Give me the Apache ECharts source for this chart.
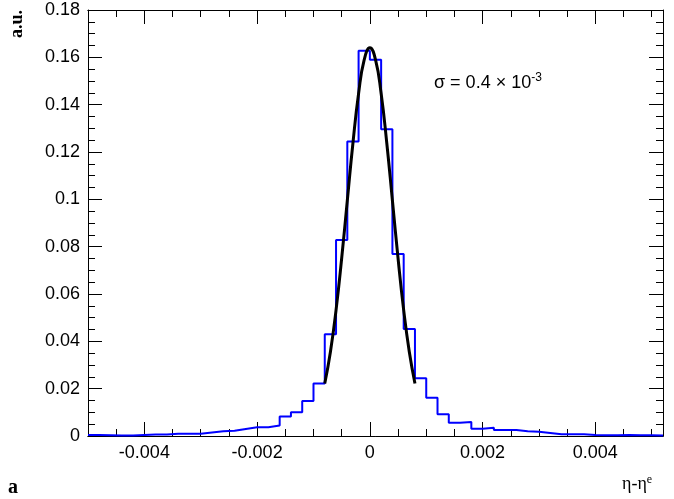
<!DOCTYPE html>
<html><head><meta charset="utf-8">
<script src="https://cdn.jsdelivr.net/npm/echarts@6/dist/echarts.min.js"></script>
<style>html,body{margin:0;padding:0;background:#fff}#c{width:674px;height:499px}</style>
</head><body><div id="c"></div>
<script>
var binStart = -0.005, binWidth = 0.0002;
var counts = [0.0004,0.0003,0.0002,0.0002,0.0004,0.0006,0.0006,0.001,0.001,0.001,
  0.0015,0.002,0.0022,0.003,0.0037,0.0037,0.0044,0.0082,0.010,0.0148,
  0.0222,0.043,0.0828,0.1244,0.1628,0.159,0.1296,0.0769,0.0452,0.0244,
  0.0162,0.0092,0.0056,0.0059,0.0031,0.0035,0.0025,0.0025,0.002,0.0018,
  0.0013,0.0007,0.0007,0.0007,0.0004,0.0003,0.0003,0.0004,0.0003,0.0003,0.0002];
var fitX = [-0.0008,-0.0007,-0.0006,-0.0005,-0.0004,-0.0003,-0.0002,-0.0001,0,0.0001,0.0002,0.0003,0.0004,0.0005,0.0006,0.0007,0.0008];
var fitY = [0.0222,0.0355,0.0532,0.0751,0.0995,0.1238,0.1447,0.159,0.164,0.159,0.1447,0.1238,0.0995,0.0751,0.0532,0.0355,0.0222];
var xMajor = [-0.004,-0.002,0,0.002,0.004];
var xMinor = [-0.005,-0.0045,-0.004,-0.0035,-0.003,-0.0025,-0.002,-0.0015,-0.001,-0.0005,0,0.0005,0.001,0.0015,0.002,0.0025,0.003,0.0035,0.004,0.0045,0.005];

var hist = [];
counts.forEach(function(v,i){var a=binStart+i*binWidth;hist.push([a,v]);hist.push([a+binWidth,v]);});
var fit = fitX.map(function(x,i){return [x,fitY[i]];});
var XMIN=-0.005, XMAX=0.0052;
var ax = {color:'#000',width:1};
function xa(pos,vals,len,labels){return {type:'value',position:pos,min:XMIN,max:XMAX,
  axisLine:{show:true,onZero:false,lineStyle:ax},splitLine:{show:false},
  axisTick:{show:true,inside:true,length:len,customValues:vals,lineStyle:ax},
  axisLabel:labels?{show:true,customValues:vals,fontFamily:'Liberation Sans',fontSize:18,color:'#000',margin:8,
    formatter:function(v){return v===0?'0':String(+v.toFixed(3));}}:{show:false}};}
function ya(pos,labels){return {type:'value',position:pos,min:0,max:0.18,interval:0.02,
  axisLine:{show:true,onZero:false,lineStyle:ax},splitLine:{show:false},
  axisTick:{show:true,inside:true,length:14,lineStyle:ax},
  minorTick:{show:true,splitNumber:4,length:7,lineStyle:ax},
  axisLabel:labels?{show:true,fontFamily:'Liberation Sans',fontSize:18,color:'#000',margin:8,
    formatter:function(v){return v===0?'0':String(+v.toFixed(2));}}:{show:false}};}
var chart = echarts.init(document.getElementById('c'));
chart.setOption({
  animation:false,
  grid:{left:88,right:11,top:10,bottom:63},
  xAxis:[xa('bottom',xMajor,14,true),xa('bottom',xMinor,7,false),xa('top',xMajor,14,false),xa('top',xMinor,7,false)],
  yAxis:[ya('left',true),ya('right',false)],
  series:[
    {type:'line',data:hist,showSymbol:false,lineStyle:{color:'#0000ff',width:2},z:2},
    {type:'line',data:fit,smooth:true,showSymbol:false,lineStyle:{color:'#000',width:3},z:3}
  ],
  graphic:[
    {type:'text',left:8,top:10,rotation:Math.PI/2,style:{text:'a.u.',font:'bold 18px "Liberation Serif"',fill:'#000'}},
    {type:'text',left:8,top:478,style:{text:'a',font:'bold 20px "Liberation Serif"',fill:'#000'}},
    {type:'text',left:622,top:474,style:{text:'{a|η-η}{b|e}',rich:{a:{font:'18px "Liberation Serif"',fill:'#000'},b:{font:'12px "Liberation Serif"',fill:'#000',verticalAlign:'top',padding:[0,0,8,0]}}}},
    {type:'text',left:434,top:72,style:{text:'{a|σ = 0.4 × 10}{b|-3}',rich:{a:{font:'18px "Liberation Sans"',fill:'#000'},b:{font:'12px "Liberation Sans"',fill:'#000',padding:[0,0,10,0]}}}}
  ]
});
</script></body></html>
